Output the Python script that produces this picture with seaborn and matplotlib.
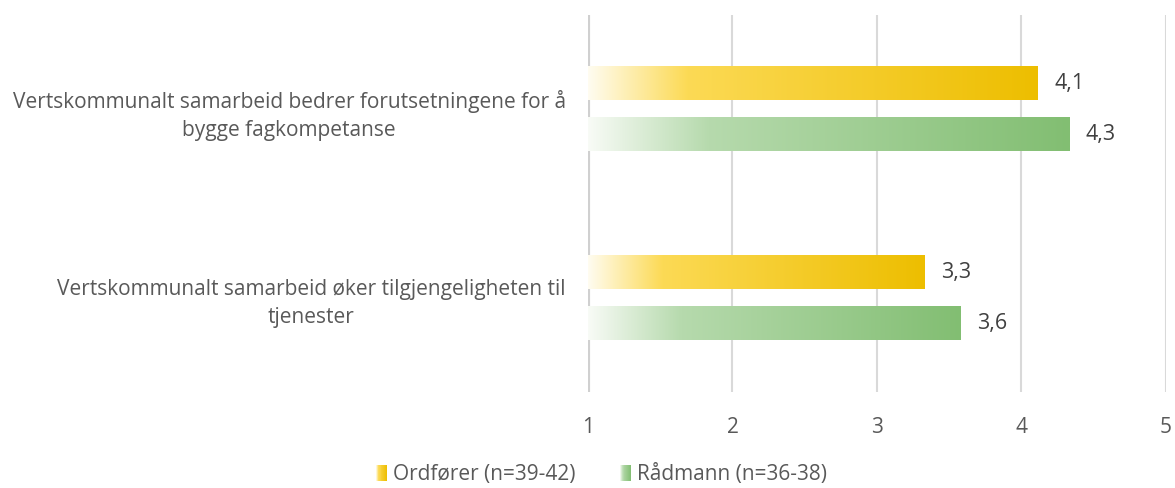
import numpy as np
import pandas as pd
import matplotlib
matplotlib.use("Agg")
import matplotlib.pyplot as plt
import seaborn as sns
from matplotlib.colors import LinearSegmentedColormap
from matplotlib.legend_handler import HandlerBase
from matplotlib.patches import Rectangle, Patch

categories = [
    "Vertskommunalt samarbeid bedrer forutsetningene for å\nbygge fagkompetanse",
    "Vertskommunalt samarbeid øker tilgjengeligheten til\ntjenester",
]
series_names = ["Ordfører (n=39-42)", "Rådmann (n=36-38)"]
ordforer = [4.11, 3.33]
radmann = [4.33, 3.58]
x_ticks = [1, 2, 3, 4, 5]

sns.set_theme(style="white")
plt.rcParams["font.family"] = ["Open Sans", "DejaVu Sans"]

TXT = "#595959"
gold_cmap = LinearSegmentedColormap.from_list(
    "gold", [(0, "#FFFCF0"), (0.22, "#FCDA55"), (1, "#EDBE00")])
green_cmap = LinearSegmentedColormap.from_list(
    "green", [(0, "#F8FBF6"), (0.25, "#B6DAAD"), (1, "#82BE72")])
cmaps = [gold_cmap, green_cmap]

df = pd.DataFrame({
    "kategori": categories * 2,
    "gruppe": [series_names[0]] * 2 + [series_names[1]] * 2,
    "verdi": ordforer + radmann,
})
df["lengde"] = df["verdi"] - 1

fig = plt.figure(figsize=(11.75, 4.88), dpi=100)
ax = fig.add_axes([0.5004, 0.197, 0.4919, 0.772])

sns.barplot(data=df, y="kategori", x="lengde", hue="gruppe", orient="h",
            width=0.54, gap=0.35, ax=ax, legend=False, left=1,
            palette=["#EDBE00", "#82BE72"], saturation=1, zorder=3)

grad = np.linspace(0, 1, 256).reshape(1, -1)
for ci, cont in enumerate(ax.containers):
    vals = [ordforer, radmann][ci]
    for bar in cont:
        x0, y0 = bar.get_x(), bar.get_y()
        w, h = bar.get_width(), bar.get_height()
        ax.imshow(grad, extent=[x0, x0 + w, y0 + h, y0], aspect="auto",
                  cmap=cmaps[ci], zorder=3, interpolation="bilinear")
        bar.set_facecolor("none")
        bar.set_edgecolor("none")
    ax.bar_label(cont, labels=[f"{v:.1f}".replace(".", ",") for v in vals],
                 padding=12, fontsize=15.5, color="#404040")

ax.set_xlim(1, 5)
ax.set_ylim(1.5, -0.5)
ax.set_xticks(x_ticks)
ax.set_xticklabels([str(t) for t in x_ticks])
for x in x_ticks[1:]:
    ax.axvline(x, color="#D9D9D9", lw=1.5, zorder=1)
ax.axvline(1, color="#D0D0D0", lw=3, zorder=1)
for s in ax.spines.values():
    s.set_visible(False)
ax.set_xlabel("")
ax.set_ylabel("")
ax.tick_params(axis="x", length=0, pad=18, labelsize=15, labelcolor=TXT)
ax.tick_params(axis="y", length=0, pad=16, labelsize=15, labelcolor=TXT)
for lbl in ax.get_yticklabels():
    lbl.set_multialignment("center")
    lbl.set_linespacing(1.45)


class GradHandler(HandlerBase):
    def __init__(self, cmap):
        super().__init__()
        self.cmap = cmap

    def create_artists(self, legend, orig_handle, xdescent, ydescent, width,
                       height, fontsize, trans):
        n = 12
        arts = []
        for i in range(n):
            arts.append(Rectangle((-xdescent + width * i / n, -ydescent),
                                  width / n, height,
                                  facecolor=self.cmap((i + 0.5) / n),
                                  edgecolor="none", transform=trans))
        return arts


handles = [Patch(label=series_names[0]), Patch(label=series_names[1])]
fig.legend(handles=handles, labels=series_names,
           handler_map={handles[0]: GradHandler(gold_cmap),
                        handles[1]: GradHandler(green_cmap)},
           loc="center", bbox_to_anchor=(0.512, 0.027), ncol=2, frameon=False,
           fontsize=15, labelcolor=TXT, handlelength=0.55, handleheight=0.8,
           handletextpad=0.3, columnspacing=2.1, borderpad=0.2)

fig.savefig("out.png", dpi=100)
